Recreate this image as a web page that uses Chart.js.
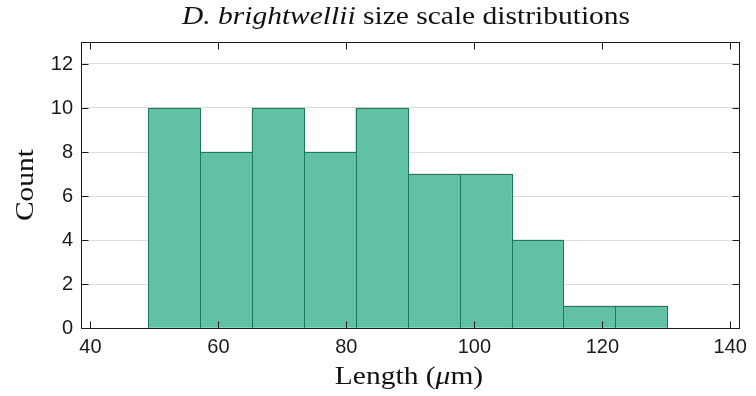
<!DOCTYPE html>
<html>
<head>
<meta charset="utf-8">
<script src="https://cdn.jsdelivr.net/npm/chart.js@4.4.1/dist/chart.umd.min.js"></script>
<style>
  html, body { margin: 0; padding: 0; background: #fff; }
  #wrap { width: 756px; height: 396px; }
</style>
</head>
<body>
<div id="wrap"><canvas id="hist" width="756" height="396"></canvas></div>
<script>
// Histogram bins (length in micrometres) and counts per bin
const binEdges = [49.05, 57.16, 65.27, 73.38, 81.49, 89.60, 97.71, 105.82, 113.93, 122.04, 130.15];
const counts = [10, 8, 10, 8, 10, 7, 7, 4, 1, 1];

const xTicks = [40, 60, 80, 100, 120, 140];
const yTicks = [0, 2, 4, 6, 8, 10, 12];
const xRange = [38.53, 141.36];
const yRange = [0, 13];

const titleItalic = 'D. brightwellii';
const titleRest = ' size scale distributions';
const xLabelMain = 'Length (';
const xLabelMu = 'μ';
const xLabelTail = 'm)';
const yLabel = 'Count';

const FILL = 'rgb(97, 193, 164)';
const EDGE = 'rgb(26, 122, 92)';
const AXIS = '#1a1a1a';
const SERIF = '"Liberation Serif", serif';
const SERIF_SIZE = 25;
const STRETCH = 1.18;
const TICK_FONT = { family: '"Liberation Sans", Arial, sans-serif', size: 20 };

const points = counts.map((c, i) => ({ x: (binEdges[i] + binEdges[i + 1]) / 2, y: c }));

// Draws a run of [text, fontStyle] pieces, stretched horizontally, centred at cx
function drawPieces(ctx, pieces, cx, baseline) {
    let total = 0;
    pieces.forEach(p => {
        ctx.font = `${p[1]} ${SERIF_SIZE}px ${SERIF}`;
        total += ctx.measureText(p[0]).width;
    });
    ctx.save();
    ctx.translate(cx, baseline);
    ctx.scale(STRETCH, 1);
    let x = -total / 2;
    ctx.textAlign = 'left';
    ctx.textBaseline = 'alphabetic';
    pieces.forEach(p => {
        ctx.font = `${p[1]} ${SERIF_SIZE}px ${SERIF}`;
        ctx.fillText(p[0], x, 0);
        x += ctx.measureText(p[0]).width;
    });
    ctx.restore();
}

const frame = {
    id: 'frame',
    afterDatasetsDraw(chart) {
        const ctx = chart.ctx;
        const meta = chart.getDatasetMeta(0);
        // bar outlines, one stroke per bin so shared edges stay 1px
        ctx.save();
        ctx.strokeStyle = EDGE;
        ctx.lineWidth = 1;
        meta.data.forEach(bar => {
            const p = bar.getProps(['x', 'y', 'base', 'width'], true);
            const l = Math.round(p.x - p.width / 2) + 0.5;
            const r = Math.round(p.x + p.width / 2) + 0.5;
            const t = Math.round(p.y) + 0.5;
            const b = Math.round(p.base) + 0.5;
            ctx.strokeRect(l, t, r - l, b - t);
        });
        ctx.restore();
    },
    afterDraw(chart) {
        const ctx = chart.ctx;
        const area = chart.chartArea;
        const xs = chart.scales.x;
        const ys = chart.scales.y;
        const L = Math.round(area.left) + 0.5;
        const R = Math.round(area.right) + 0.5;
        const T = Math.round(area.top) + 0.5;
        const B = Math.round(area.bottom) + 0.5;
        const tick = 7;

        ctx.save();
        ctx.strokeStyle = AXIS;
        ctx.lineWidth = 1;
        ctx.strokeRect(L, T, R - L, B - T);
        ctx.beginPath();
        xTicks.forEach(v => {
            const px = Math.round(xs.getPixelForValue(v)) + 0.5;
            ctx.moveTo(px, B); ctx.lineTo(px, B - tick);
            ctx.moveTo(px, T); ctx.lineTo(px, T + tick);
        });
        yTicks.forEach(v => {
            const py = Math.round(ys.getPixelForValue(v)) + 0.5;
            ctx.moveTo(L, py); ctx.lineTo(L + tick, py);
            ctx.moveTo(R, py); ctx.lineTo(R - tick, py);
        });
        ctx.stroke();

        // title and axis labels
        ctx.fillStyle = '#111';
        const cx = (area.left + area.right) / 2;
        drawPieces(ctx, [[titleItalic, 'italic'], [titleRest, 'normal']], cx - 4, 24);
        drawPieces(ctx, [[xLabelMain, 'normal'], [xLabelMu, 'italic'], [xLabelTail, 'normal']], cx - 1, 384);
        ctx.save();
        ctx.translate(33, (area.top + area.bottom) / 2);
        ctx.rotate(-Math.PI / 2);
        drawPieces(ctx, [[yLabel, 'normal']], 0, 0);
        ctx.restore();
        ctx.restore();
    }
};

new Chart(document.getElementById('hist'), {
    type: 'bar',
    data: {
        datasets: [{
            data: points,
            backgroundColor: FILL,
            borderWidth: 0,
            barPercentage: 1,
            categoryPercentage: 1
        }]
    },
    options: {
        responsive: false,
        animation: false,
        events: [],
        layout: { padding: { top: 42, right: 17, left: 0, bottom: 0 } },
        plugins: { legend: { display: false }, tooltip: { enabled: false } },
        scales: {
            x: {
                type: 'linear',
                offset: false,
                min: xRange[0],
                max: xRange[1],
                afterBuildTicks: s => { s.ticks = xTicks.map(v => ({ value: v })); },
                afterFit: s => { s.height = 68; },
                grid: { display: false, drawTicks: false, offset: false },
                border: { display: false },
                ticks: { padding: 7, color: AXIS, font: TICK_FONT, maxRotation: 0 }
            },
            y: {
                min: yRange[0],
                max: yRange[1],
                afterBuildTicks: s => { s.ticks = yTicks.map(v => ({ value: v })); },
                afterFit: s => { s.width = 81; },
                grid: { color: '#dedede', lineWidth: 1, drawTicks: false },
                border: { display: false },
                ticks: { padding: 8, color: AXIS, font: TICK_FONT }
            }
        }
    },
    plugins: [frame]
});
</script>
</body>
</html>
